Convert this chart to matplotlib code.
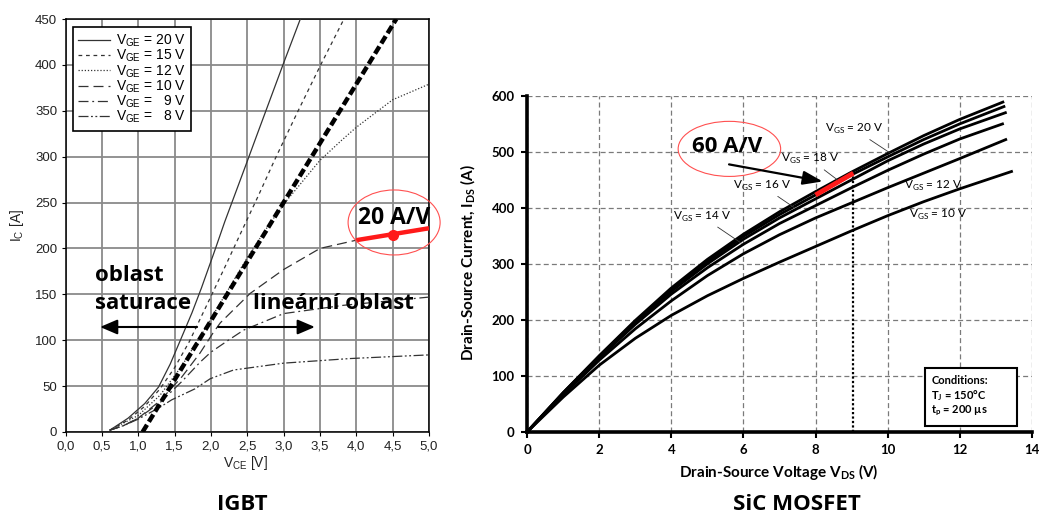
import matplotlib
matplotlib.use('Agg')
import matplotlib.pyplot as plt
from matplotlib.patches import Ellipse, Rectangle
from matplotlib.lines import Line2D

# ---------------- IGBT data (VCE [V], IC [A]) ----------------
igbt_labels = ['20 V', '15 V', '12 V', '10 V', '  9 V', '  8 V']
vce_20 = [0.61, 0.86, 1.09, 1.28, 1.44, 1.58, 1.74, 1.87, 2.05, 2.19, 2.5, 2.63, 3.0, 3.23]
ic_20 = [2, 15, 31, 49, 74, 100, 130, 157, 197, 229, 295, 323, 402, 450]
vce_15 = [0.61, 0.86, 1.09, 1.3, 1.5, 1.7, 1.99, 2.2, 2.4, 2.65, 2.88, 3.2, 3.51, 3.83]
ic_15 = [2, 13, 28, 47, 70, 98, 146, 181, 215, 257, 297, 350, 400, 450]
vce_12 = [0.61, 1.0, 1.3, 1.6, 1.9, 2.2, 2.5, 2.8, 3.02, 3.5, 3.8, 4.0, 4.5, 5.0]
ic_12 = [2, 18, 40, 72, 110, 150, 190, 226, 250, 296, 318, 332, 362, 379]
vce_10 = [0.61, 0.8, 1.0, 1.3, 1.6, 1.85, 2.03, 2.13, 2.54, 3.0, 3.5, 4.0, 4.5, 5.0]
ic_10 = [2, 7, 15, 34, 60, 86, 108, 119, 151, 177, 200, 209, 215, 221]
vce_9 = [0.61, 0.8, 1.0, 1.3, 1.6, 1.85, 2.0, 2.24, 2.45, 3.0, 3.82, 5.0]
ic_9 = [2, 7, 15, 32, 55, 76, 87, 100, 111, 129, 138, 147]
vce_8 = [0.61, 0.8, 1.0, 1.3, 1.46, 1.78, 1.99, 2.31, 3.0, 3.91, 5.0]
ic_8 = [2, 7, 14, 27, 35, 47, 58, 67.5, 75, 80, 84]
load_vce = [1.06, 4.55]
load_ic = [0, 450]
red_vce = [4.0, 5.0]
red_ic = [209, 222]
dot_vce = [4.5]
dot_ic = [215]
igbt_xticks = [0, 0.5, 1.0, 1.5, 2.0, 2.5, 3.0, 3.5, 4.0, 4.5, 5.0]
igbt_xticklabels = ['0,0', '0,5', '1,0', '1,5', '2,0', '2,5', '3,0', '3,5', '4,0', '4,5', '5,0']
igbt_yticks = [0, 50, 100, 150, 200, 250, 300, 350, 400, 450]

# ---------------- SiC MOSFET data (VDS [V], IDS [A]) ----------------
vds_20 = [0, 1, 2, 3, 4, 5, 6, 7, 8, 9, 10, 11, 12, 13.2]
ids_20 = [0, 70, 136, 199, 257, 308, 353, 393, 429, 464, 497, 529, 558, 589]
vds_18 = [0, 1, 2, 3, 4, 5, 6, 7, 8, 9, 10, 11, 12, 13.23]
ids_18 = [0, 70, 135, 197, 254, 304, 349, 388, 423, 459, 491, 522, 550, 581]
vds_16 = [0, 1, 2, 3, 4, 5, 6, 7, 8, 9, 10, 11, 12, 13.27]
ids_16 = [0, 69, 134, 195, 251, 300, 344, 382, 416, 450, 484, 514, 541, 570]
vds_14 = [0, 1, 2, 3, 4, 5, 6, 7, 8, 9, 10, 11, 12, 13.19]
ids_14 = [0, 68, 132, 192, 246, 293, 335, 372, 404, 436, 467, 496, 523, 550]
vds_12 = [0, 1, 2, 3, 4, 5, 6, 7, 8, 9, 10, 11, 12, 13.28]
ids_12 = [0, 66, 128, 184, 234, 279, 318, 352, 382, 409, 436, 462, 488, 522]
vds_10 = [0, 1, 2, 3, 4, 5, 6, 7, 8, 9, 10, 11, 12, 13.44]
ids_10 = [0, 62, 119, 167, 208, 243, 274, 303, 331, 359, 386, 411, 434, 465]
mos_red_vds = [8.0, 9.05]
mos_red_ids = [423, 462]
mos_xticks = [0, 2, 4, 6, 8, 10, 12, 14]
mos_yticks = [0, 100, 200, 300, 400, 500, 600]

fig = plt.figure(figsize=(10.4, 5.15), dpi=100)

# ======================= IGBT =======================
ax1 = fig.add_axes([0.063, 0.1612, 0.3495, 0.8019])
ax1.set_xlim(0, 5)
ax1.set_ylim(0, 450)
ax1.set_xticks(igbt_xticks)
ax1.set_xticklabels(igbt_xticklabels)
ax1.set_yticks(igbt_yticks)
ax1.grid(True, color='#8a8a8a', lw=1.3)
ax1.set_axisbelow(True)
for s in ax1.spines.values():
    s.set_color('black')
    s.set_linewidth(1.1)
ax1.tick_params(labelsize=9.5, length=3, width=0.8, pad=3, labelcolor='#222222')
for lab in ax1.get_xticklabels() + ax1.get_yticklabels():
    lab.set_family('Liberation Sans')

lc = '#333333'
lw = 0.9
styles = ['-', (0, (3, 3)), (0, (1, 1.5)), (0, (8, 4)),
          (0, (8, 3, 1.5, 3)), (0, (8, 2, 1.5, 2, 1.5, 2))]
series = [(vce_20, ic_20), (vce_15, ic_15), (vce_12, ic_12),
          (vce_10, ic_10), (vce_9, ic_9), (vce_8, ic_8)]
handles = []
for (x, y), ls, lab in zip(series, styles, igbt_labels):
    ax1.plot(x, y, color=lc, lw=lw, ls=ls, zorder=3)
    handles.append(Line2D([], [], color=lc, lw=lw, ls=ls,
                          label=r'V$_{\mathregular{GE}}$ = ' + lab))

ax1.plot(load_vce, load_ic, color='black', lw=3.2, dashes=(1.9, 0.8), zorder=4)
ax1.plot(red_vce, red_ic, color='#ff1a1a', lw=3.2, zorder=5, solid_capstyle='butt')
ax1.plot(dot_vce, dot_ic, 'o', color='#ff1a1a', ms=7, zorder=6)

leg = ax1.legend(handles=handles, loc='upper left', bbox_to_anchor=(0.0198, 0.9806),
                 borderaxespad=0, fancybox=False, framealpha=1, edgecolor='black',
                 prop={'family': 'Liberation Sans', 'size': 10},
                 handlelength=2.3, handletextpad=0.4, labelspacing=-0.08,
                 borderpad=0.4)
leg.get_frame().set_linewidth(1.2)

ax1.add_patch(Ellipse((4.52, 228.3), 1.266, 70.8, fill=False, edgecolor='#ff5050',
                      lw=0.8, clip_on=False, zorder=7))
ax1.text(4.52, 233, '20 A/V', family='Open Sans', weight='bold', fontsize=16.5,
         ha='center', va='center', zorder=8)

ax1.text(0.41, 164.9, 'oblast', family='Open Sans', weight='bold', fontsize=16,
         ha='left', va='baseline', zorder=8)
ax1.text(0.41, 133.7, 'saturace', family='Open Sans', weight='bold', fontsize=16,
         ha='left', va='baseline', zorder=8)
ax1.text(2.58, 133.7, 'lineární oblast', family='Open Sans', weight='bold', fontsize=16,
         ha='left', va='baseline', zorder=8)
arrow_kw = dict(arrowstyle='-|>,head_length=0.7,head_width=0.3', color='black',
                lw=1.5, mutation_scale=15, shrinkA=0, shrinkB=0)
ax1.annotate('', xy=(0.475, 114.4), xytext=(1.81, 114.4), arrowprops=arrow_kw, zorder=8)
ax1.annotate('', xy=(3.43, 114.4), xytext=(2.10, 114.4), arrowprops=arrow_kw, zorder=8)

fig.text(17 / 1040, 1 - 225 / 515, r'I$_{\mathregular{C}}$ [A]', rotation=90,
         family='Liberation Sans', fontsize=10, color='#222222', ha='center', va='center')
fig.text(245.5 / 1040, 1 - 463 / 515, r'V$_{\mathregular{CE}}$ [V]',
         family='Liberation Sans', fontsize=10, color='#222222', ha='center', va='center')
fig.text(242.5 / 1040, 1 - 504 / 515, 'IGBT', family='Open Sans', weight='bold',
         fontsize=16, ha='center', va='center')

# ======================= SiC MOSFET =======================
ax2 = fig.add_axes([0.507, 0.1617, 0.485, 0.652])
ax2.set_xlim(0, 14)
ax2.set_ylim(0, 600)
ax2.set_xticks(mos_xticks)
ax2.set_yticks(mos_yticks)
ax2.grid(True, color='#7a7a7a', lw=0.9, dashes=(4, 2.5))
ax2.set_axisbelow(True)
ax2.spines['top'].set_visible(False)
ax2.spines['right'].set_visible(False)
ax2.spines['left'].set_linewidth(2.6)
ax2.spines['bottom'].set_linewidth(2.6)
ax2.tick_params(length=4, width=1.5, pad=5)
for lab in ax2.get_xticklabels() + ax2.get_yticklabels():
    lab.set_family('Lato')
    lab.set_weight('bold')
    lab.set_fontsize(9.5)

mos_series = [(vds_20, ids_20), (vds_18, ids_18), (vds_16, ids_16),
              (vds_14, ids_14), (vds_12, ids_12), (vds_10, ids_10)]
for x, y in mos_series:
    ax2.plot(x, y, color='black', lw=2.0, zorder=3, clip_on=False)

ax2.plot([9.05, 9.05], [0, 462], color='black', lw=1.6, ls=(0, (1, 1)), zorder=4)
ax2.plot(mos_red_vds, mos_red_ids, color='#ff1a1a', lw=3.5, zorder=5, solid_capstyle='butt')

lab_kw = dict(family='Lato', fontsize=8.5, ha='center', va='center', zorder=8)
ptr = dict(arrowstyle='-', lw=0.6, color='#333333', shrinkA=1, shrinkB=0)
ax2.annotate(r'V$_{\mathregular{GS}}$ = 20 V', xy=(10.05, 499), xytext=(9.06, 541),
             arrowprops=ptr, **lab_kw)
ax2.annotate(r'V$_{\mathregular{GS}}$ = 18 V', xy=(8.61, 450), xytext=(7.85, 487),
             arrowprops=ptr, **lab_kw)
ax2.annotate(r'V$_{\mathregular{GS}}$ = 16 V', xy=(7.42, 400), xytext=(6.52, 439.5),
             arrowprops=ptr, **lab_kw)
ax2.annotate(r'V$_{\mathregular{GS}}$ = 14 V', xy=(5.94, 337), xytext=(4.85, 384.6),
             arrowprops=ptr, **lab_kw)
ax2.text(11.27, 439.5, r'V$_{\mathregular{GS}}$ = 12 V', **lab_kw)
ax2.text(11.41, 387.7, r'V$_{\mathregular{GS}}$ = 10 V', **lab_kw)

ax2.add_patch(Ellipse((5.61, 505.4), 2.845, 98.4, fill=False, edgecolor='#ff5050',
                      lw=0.8, zorder=7))
ax2.text(5.56, 509, '60 A/V', family='Open Sans', weight='bold', fontsize=16,
         ha='center', va='center', zorder=8)
ax2.annotate('', xy=(8.2, 447.2), xytext=(5.6, 477.7),
             arrowprops=dict(arrowstyle='-|>,head_length=0.8,head_width=0.28',
                             color='black', lw=1.6, mutation_scale=15,
                             shrinkA=0, shrinkB=0), zorder=8)

ax2.add_patch(Rectangle((11.03, 10.2), 13.58 - 11.03, 114.5 - 10.2, facecolor='white',
                        edgecolor='black', lw=1.5, zorder=9))
cond_kw = dict(family='Lato', weight='bold', fontsize=8, ha='left', va='center', zorder=10)
ax2.text(11.21, 90.7, 'Conditions:', **cond_kw)
ax2.text(11.21, 63.9, r'T$_{\mathregular{J}}$ = 150°C', **cond_kw)
ax2.text(11.21, 37.6, r't$_{\mathregular{p}}$ = 200 µs', **cond_kw)

fig.text(468 / 1040, 1 - 263 / 515, r'Drain-Source Current, I$_{\mathregular{DS}}$ (A)',
         rotation=90, family='Lato', weight='bold', fontsize=11, ha='center', va='center')
fig.text(779 / 1040, 1 - 471.7 / 515, r'Drain-Source Voltage V$_{\mathregular{DS}}$ (V)',
         family='Lato', weight='bold', fontsize=11, ha='center', va='center')
fig.text(797 / 1040, 1 - 505 / 515, 'SiC MOSFET', family='Open Sans', weight='bold',
         fontsize=16, ha='center', va='center')

fig.savefig('out.png', dpi=100)
